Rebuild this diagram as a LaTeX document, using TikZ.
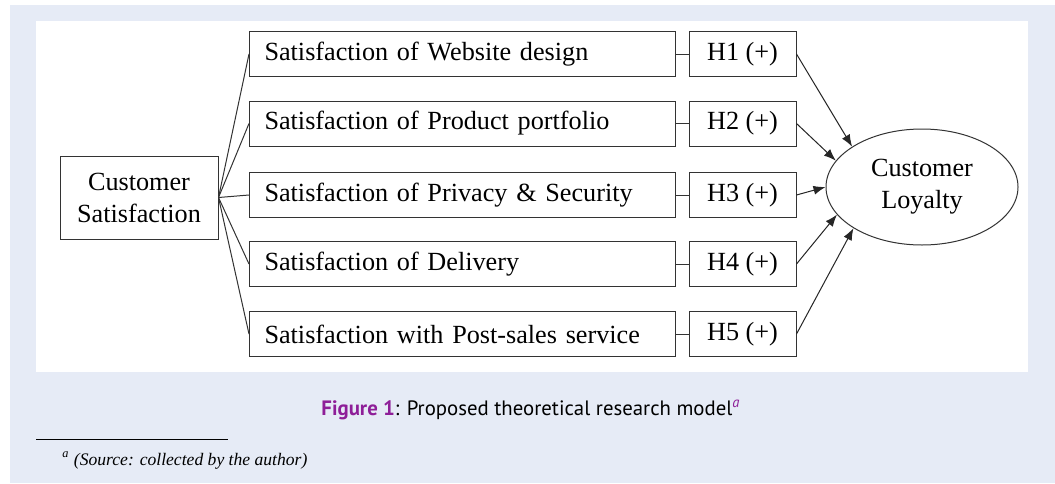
\documentclass[tikz,border=0pt]{standalone}
\usepackage{fontspec}
\setmainfont{Liberation Serif}
\newfontfamily\capfont{PT Sans}
\usetikzlibrary{arrows.meta,shapes.geometric}
\definecolor{panelblue}{RGB}{230,235,246}
\definecolor{figpurple}{RGB}{142,30,152}

\begin{document}
\begin{tikzpicture}
[x=0.5pt, y=-0.5pt,
boxnode/.style={rectangle, draw=black!80, line width=0.5pt, font=\fontsize{13.1}{16}\selectfont},
satnode/.style={boxnode, anchor=west, minimum height=22.5pt, text width=198pt, inner xsep=7.5pt, align=left},
hypnode/.style={boxnode, minimum width=53.5pt, minimum height=22.5pt},
link/.style={draw=black!80, line width=0.5pt},
connect/.style={-{Latex[length=6pt,width=4.5pt]}, draw=black!85, line width=0.5pt}]
\useasboundingbox (0, 0) rectangle (1055, 483);
\fill[panelblue] (10, 5) rectangle (1055, 483);
\fill[white] (36, 21) rectangle (1028, 372);

\node[boxnode, minimum width=79pt, minimum height=41.5pt, align=center] (custsat) at (139, 197.5) {Customer\\Satisfaction};
\node[satnode] (sat1) at (249, 54) {Satisfaction of Website design};
\node[satnode] (sat2) at (249, 123.5) {Satisfaction of Product portfolio};
\node[satnode] (sat3) at (249, 195) {Satisfaction of Privacy \& Security};
\node[satnode] (sat4) at (249, 264) {Satisfaction of Delivery};
\node[satnode] (sat5) at (249, 334) {Satisfaction with Post-sales service};
\node[hypnode] (hyp1) at (742.5, 54) {H1 (+)};
\node[hypnode] (hyp2) at (742.5, 123.5) {H2 (+)};
\node[hypnode] (hyp3) at (742.5, 195) {H3 (+)};
\node[hypnode] (hyp4) at (742.5, 264) {H4 (+)};
\node[hypnode] (hyp5) at (742.5, 334) {H5 (+)};
\node[ellipse, draw=black!80, line width=0.5pt, minimum width=96pt, minimum height=58pt, inner sep=0pt, align=center, font=\fontsize{13.1}{16}\selectfont] (loyalty) at (922, 187) {Customer\\Loyalty};

\draw[link] (custsat.east) -- (sat1.west);
\draw[link] (custsat.east) -- (sat2.west);
\draw[link] (custsat.east) -- (sat3.west);
\draw[link] (custsat.east) -- (sat4.west);
\draw[link] (custsat.east) -- (sat5.west);
\draw[link] (sat1.east) -- (hyp1.west);
\draw[link] (sat2.east) -- (hyp2.west);
\draw[link] (sat3.east) -- (hyp3.west);
\draw[link] (sat4.east) -- (hyp4.west);
\draw[link] (sat5.east) -- (hyp5.west);
\draw[connect] (hyp1.east) -- (loyalty.150);
\draw[connect] (hyp2.east) -- (loyalty.163);
\draw[connect] (hyp3.east) -- (loyalty.180);
\draw[connect] (hyp4.east) -- (loyalty.198);
\draw[connect] (hyp5.east) -- (loyalty.211);

\node[anchor=base, font=\capfont\fontsize{10.4}{12}\selectfont] (caption) at (531, 415) {\textcolor{figpurple}{\textbf{Figure 1}}: Proposed theoretical research model\textsuperscript{\textcolor{figpurple}{\textit{a}}}};
\coordinate (ruleleft) at (36, 439);
\coordinate (ruleright) at (228, 439);
\draw[black, line width=0.5pt] (ruleleft) -- (ruleright);
\node[anchor=base west, inner sep=0pt, font=\fontsize{8.8}{10}\selectfont\itshape] (source) at (62, 465) {\textsuperscript{a} (Source: collected by the author)};

\end{tikzpicture}
\end{document}
